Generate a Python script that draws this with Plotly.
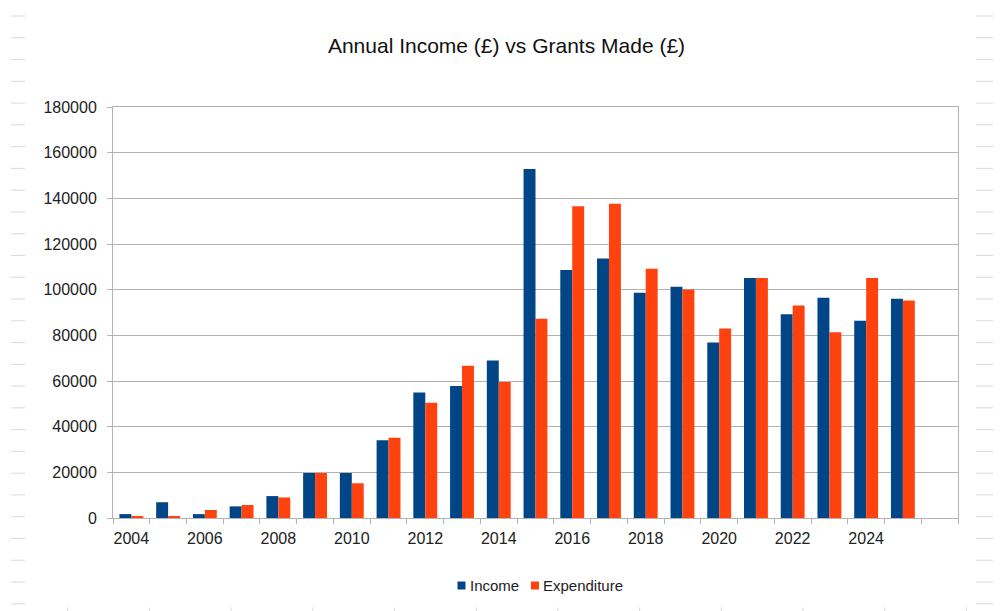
import plotly.graph_objects as go

years = list(range(2004, 2026))
income = [1700, 6900, 1700, 5100, 9600, 19700, 19700, 34000, 55000, 57800, 69000,
          152800, 108600, 113700, 98600, 101300, 76900, 105100, 89200, 96500, 86400, 96000]
expenditure = [900, 700, 3500, 5700, 9000, 19700, 15200, 35200, 50500, 66700, 59600,
               87300, 136500, 137600, 109200, 100100, 83000, 105100, 93100, 81400, 105100, 95300]
label_years = list(range(2004, 2025, 2))
y_ticks = list(range(0, 180001, 20000))

INCOME_COLOR = "#004586"
EXP_COLOR = "#ff420e"
GRID = "#b3b3b3"
FONT = "Liberation Sans, Arial, sans-serif"

W, H = 1001, 611
OFF = 8  # page body margin
# plot area in page pixels
PL, PR, PT, PB = 113, 958, 107, 518
L, T = PL - OFF, PT - OFF
R = W - (PR - OFF)
B = H - (PB - OFF)
PW, PH = PR - PL, PB - PT


def px(x):
    return (x - PL) / PW


def py(y):
    return (PB - y) / PH


fig = go.Figure()
fig.add_trace(go.Bar(x=years, y=income, name="Income", marker=dict(color=INCOME_COLOR, line=dict(width=0)),
                     showlegend=False))
fig.add_trace(go.Bar(x=years, y=expenditure, name="Expenditure", marker=dict(color=EXP_COLOR, line=dict(width=0)),
                     showlegend=False))

shapes = []
# faint spreadsheet cell lines around the chart
for k in range(28):
    yy = 16 + 21.77 * k
    shapes.append(dict(type="line", xref="paper", yref="paper", x0=px(11), x1=px(25), y0=py(yy), y1=py(yy),
                       line=dict(color="#dadada", width=1), layer="below"))
    shapes.append(dict(type="line", xref="paper", yref="paper", x0=px(976), x1=px(1001), y0=py(yy), y1=py(yy),
                       line=dict(color="#dadada", width=1), layer="below"))
for k in range(12):
    xx = 67.7 + 81.7 * k
    shapes.append(dict(type="line", xref="paper", yref="paper", x0=px(xx), x1=px(xx), y0=py(607.5), y1=py(611),
                       line=dict(color="#dadada", width=1), layer="below"))

# custom legend
legend_items = [("Income", INCOME_COLOR, 457.5), ("Expenditure", EXP_COLOR, 531)]
annotations = []
for name, color, x0 in legend_items:
    shapes.append(dict(type="rect", xref="paper", yref="paper", x0=px(x0), x1=px(x0 + 8),
                       y0=py(589.5), y1=py(581.5), fillcolor=color, line=dict(width=0)))
    annotations.append(dict(text=name, xref="paper", yref="paper", x=px(x0 + 10), y=py(585.5),
                            xanchor="left", yanchor="middle", showarrow=False,
                            font=dict(family=FONT, size=15, color="#222222")))

fig.update_layout(
    width=W, height=H,
    margin=dict(l=L, r=R, t=T, b=B),
    paper_bgcolor="white", plot_bgcolor="white",
    barmode="group", bargap=0.35, bargroupgap=0,
    title=dict(text="Annual Income (£) vs Grants Made (£)", x=(506.5 - OFF) / W, xanchor="center",
               y=1 - (46 - OFF) / H, yanchor="middle", yref="container",
               font=dict(family=FONT, size=21, color="#111111")),
    showlegend=False,
    shapes=shapes,
    annotations=annotations,
    xaxis=dict(
        range=[2003.5, 2026.5],
        tickmode="array", tickvals=label_years, ticktext=[str(y) for y in label_years],
        ticks="", ticklabelstandoff=6,
        showgrid=False, zeroline=False,
        showline=True, linecolor=GRID, linewidth=1, mirror=True,
        tickfont=dict(family=FONT, size=16, color="#222222"),
        minor=dict(tickmode="array", tickvals=[y + 0.5 for y in range(2003, 2027)],
                   ticks="outside", ticklen=5, tickcolor=GRID, tickwidth=1, showgrid=False),
    ),
    yaxis=dict(
        range=[0, 180000],
        tickmode="array", tickvals=y_ticks, ticktext=[str(v) for v in y_ticks],
        ticks="outside", ticklen=5, tickcolor=GRID, tickwidth=1,
        showgrid=True, gridcolor=GRID, gridwidth=1,
        zeroline=False,
        showline=True, linecolor=GRID, linewidth=1, mirror=True,
        tickfont=dict(family=FONT, size=16, color="#222222"),
        ticklabelstandoff=7,
    ),
)

fig.write_html("out.html")
